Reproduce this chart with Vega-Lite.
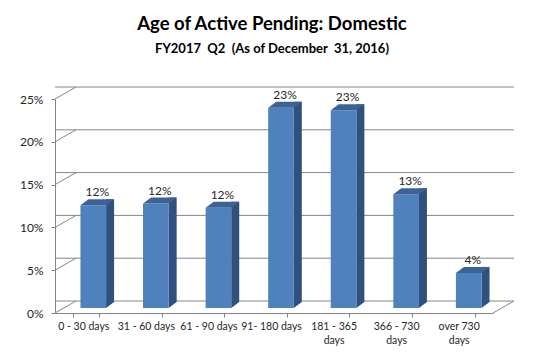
{
  "$schema": "https://vega.github.io/schema/vega-lite/v6.json",
  "autosize": {"type": "none"},
  "width": 438,
  "height": 214,
  "padding": {"left": 55, "top": 99, "right": 50, "bottom": 44},
  "background": "white",
  "config": {
    "view": {"stroke": null},
    "font": "Lato",
    "axis": {"labelFont": "Lato", "labelColor": "#262626", "domainColor": "#868686", "tickColor": "#868686"}
  },
  "title": {
    "text": "Age of Active Pending: Domestic",
    "subtitle": "FY2017\u00a0 Q2\u00a0 (As of December\u00a0 31, 2016)",
    "anchor": "middle",
    "frame": "group",
    "offset": 31,
    "dx": -2,
    "font": "Lato",
    "fontSize": 18.5,
    "fontWeight": "bold",
    "color": "black",
    "subtitleFont": "Lato",
    "subtitleFontSize": 13,
    "subtitleFontWeight": "bold",
    "subtitleColor": "black",
    "subtitlePadding": 9
  },
  "datasets": {
    "bars": [
      {"cat": "0 - 30 days", "v": 0.120},
      {"cat": "31 - 60 days", "v": 0.122},
      {"cat": "61 - 90 days", "v": 0.117},
      {"cat": "91- 180 days", "v": 0.234},
      {"cat": "181 - 365 days", "v": 0.231},
      {"cat": "366 - 730 days", "v": 0.133},
      {"cat": "over 730 days", "v": 0.041}
    ],
    "ticks": [{"v": 0}, {"v": 0.05}, {"v": 0.1}, {"v": 0.15}, {"v": 0.2}, {"v": 0.25}]
  },
  "encoding": {
    "y": {
      "field": "v",
      "type": "quantitative",
      "scale": {"domain": [0, 0.25], "nice": false},
      "axis": {
        "title": null,
        "values": [0, 0.05, 0.1, 0.15, 0.2, 0.25],
        "format": ".0%",
        "grid": false,
        "tickSize": 4,
        "labelPadding": 8,
        "labelFontSize": 12
      }
    }
  },
  "layer": [
    {
      "data": {"name": "ticks"},
      "mark": {"type": "rule", "color": "#868686", "strokeWidth": 1, "xOffset": 21, "x2Offset": 21, "yOffset": -12, "y2Offset": -12}
    },
    {
      "data": {"name": "ticks"},
      "mark": {"type": "rule", "color": "#868686", "strokeWidth": 1, "x2Offset": 21, "y2Offset": -12},
      "encoding": {
        "x": {"datum": 0, "type": "quantitative", "scale": {"domain": [0, 1]}, "axis": null},
        "x2": {"datum": 0},
        "y2": {"field": "v"}
      }
    },
    {
      "data": {"name": "ticks"},
      "transform": [{"filter": "datum.v == 0"}],
      "mark": {"type": "rule", "color": "#868686", "strokeWidth": 1, "x2Offset": 21, "y2Offset": -12},
      "encoding": {
        "x": {"datum": 1, "type": "quantitative", "scale": {"domain": [0, 1]}, "axis": null},
        "x2": {"datum": 1},
        "y2": {"field": "v"}
      }
    },
    {
      "data": {"name": "bars"},
      "encoding": {
        "x": {
          "field": "cat",
          "type": "nominal",
          "sort": null,
          "scale": {"paddingInner": 0.59, "paddingOuter": 0.295},
          "axis": {
            "title": null,
            "labelAngle": 0,
            "labelFontSize": 10.5,
            "labelLineHeight": 14.5,
            "labelPadding": 4,
            "labelOffset": -3,
            "labelOverlap": false,
            "tickBand": "extent",
            "tickSize": 4,
            "labelExpr": "length(datum.label) > 12 ? [substring(datum.label, 0, lastindexof(datum.label, ' ')), 'days'] : datum.label"
          }
        }
      },
      "layer": [
        {
          "mark": {"type": "bar", "color": "#30507D", "width": 8, "xOffset": 23.8, "yOffset": -11, "y2Offset": -11}
        },
        {
          "mark": {"type": "point", "shape": "M19.8,0L27.8,-6L19.8,-6Z", "size": 4, "filled": true, "opacity": 1, "color": "#30507D", "strokeWidth": 0, "yOffset": -5},
          "encoding": {"y": {"datum": 0, "type": "quantitative"}}
        },
        {
          "mark": {"type": "bar", "color": "#4F81BD", "xOffset": 7, "yOffset": -5, "y2Offset": -5}
        },
        {
          "mark": {"type": "point", "shape": "M-5.8,0L19.8,0L27.8,-6L2.2,-6Z", "size": 4, "filled": true, "opacity": 1, "color": "#3D6396", "strokeWidth": 0, "yOffset": -5}
        },
        {
          "mark": {"type": "text", "xOffset": 11, "dy": -14, "baseline": "alphabetic", "fontSize": 12, "color": "#262626", "font": "Lato"},
          "encoding": {"text": {"field": "v", "type": "quantitative", "format": ".0%"}}
        }
      ]
    }
  ],
  "resolve": {"scale": {"x": "independent"}}
}
